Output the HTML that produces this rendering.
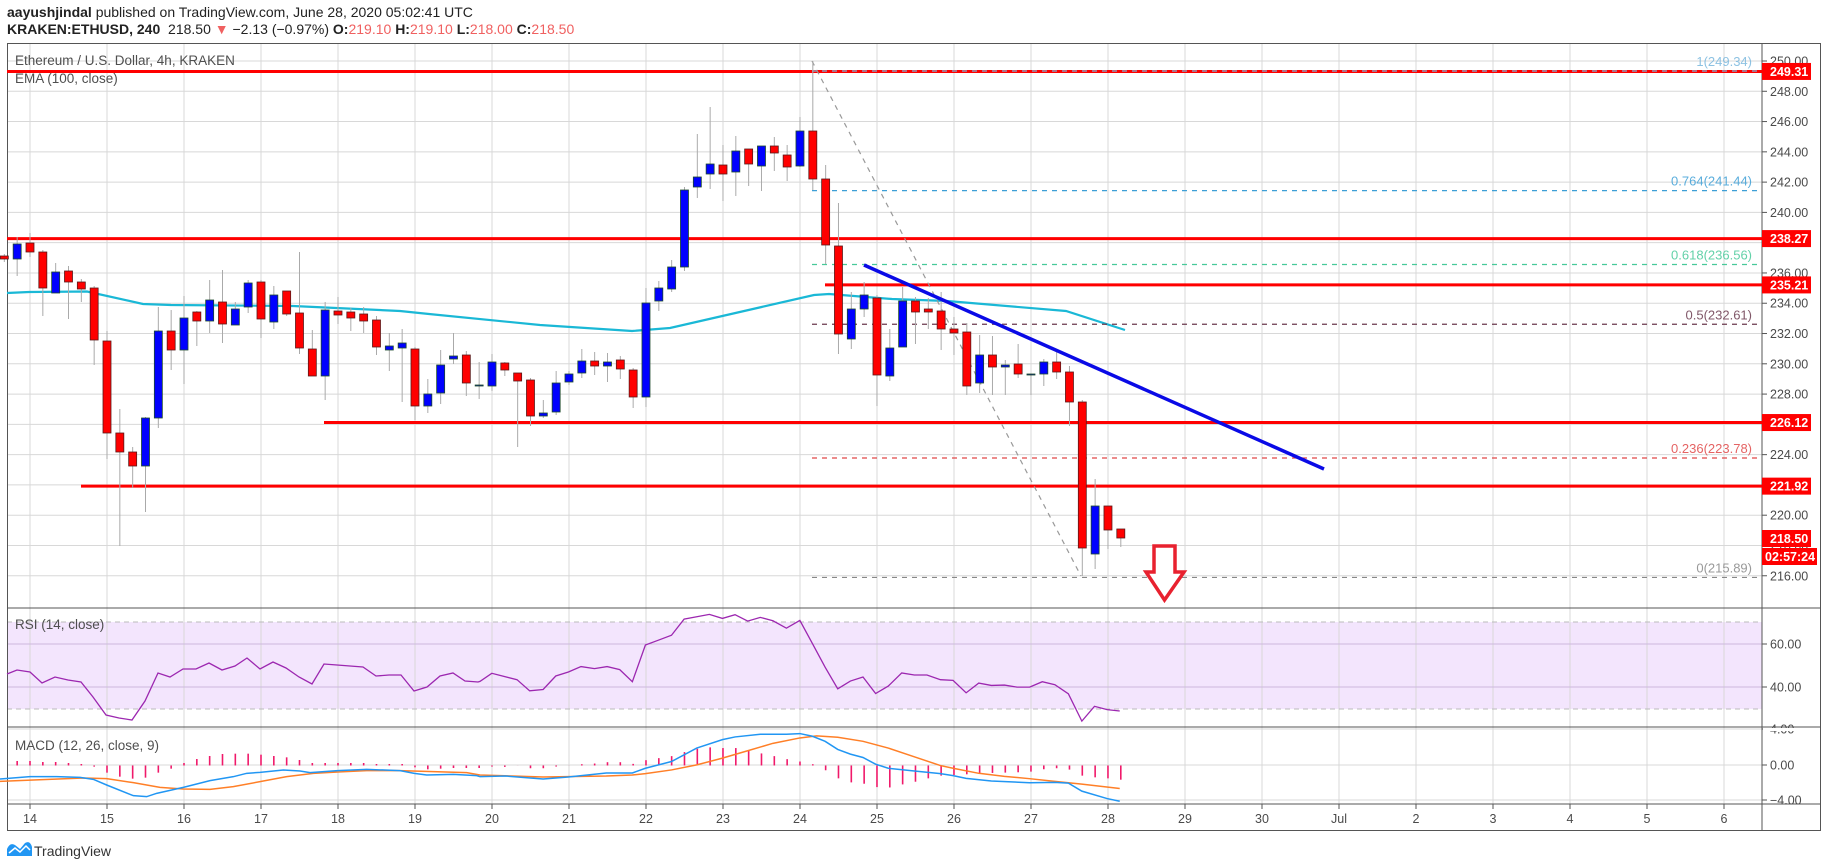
<!DOCTYPE html>
<html><head><meta charset="utf-8"><style>
html,body{margin:0;padding:0;background:#fff;width:1828px;height:868px;overflow:hidden;font-family:"Liberation Sans",sans-serif;}
.h{position:absolute;left:7px;font-size:14px;color:#222;white-space:nowrap}
.r{color:#f06060}
</style></head><body>
<div class="h" style="top:4px"><b>aayushjindal</b> published on TradingView.com, June 28, 2020 05:02:41 UTC</div>
<div class="h" style="top:21px"><b>KRAKEN:ETHUSD, 240</b>&nbsp; 218.50 <span class="r">▼</span> −2.13 (−0.97%) <b>O:</b><span class="r">219.10</span> <b>H:</b><span class="r">219.10</span> <b>L:</b><span class="r">218.00</span> <b>C:</b><span class="r">218.50</span></div>
<svg id="s" width="1828" height="868" style="position:absolute;left:0;top:0" xmlns="http://www.w3.org/2000/svg" font-family="Liberation Sans, sans-serif"></svg>
<script>
const S=document.getElementById('s');let h='';
const P=p=>61+(250-p)*15.14;
const X=i=>30+(i-3)*12.833;
// RSI band
h+=`<rect x="7" y="622" width="1755" height="87" fill="#f3e5fd"/>`;
// grids
for(let d=0;d<=22;d++){const x=30+d*77;h+=`<line x1="${x}" y1="43" x2="${x}" y2="804" stroke="#d8d8d8"/>`;}
for(let p=216;p<=250;p+=2){const y=P(p);h+=`<line x1="7" y1="${y}" x2="1762" y2="${y}" stroke="#d8d8d8"/>`;}
[644,687].forEach(y=>h+=`<line x1="7" y1="${y}" x2="1762" y2="${y}" stroke="#cdb8dd"/>`);
[622,709].forEach(y=>h+=`<line x1="7" y1="${y}" x2="1762" y2="${y}" stroke="#bbb" stroke-dasharray="5,4"/>`);
[729,765,800].forEach(y=>h+=`<line x1="7" y1="${y}" x2="1762" y2="${y}" stroke="#d8d8d8"/>`);
// frames
h+=`<rect x="7.5" y="43.5" width="1813" height="787" fill="none" stroke="#555"/>`;
h+=`<line x1="1762" y1="43" x2="1762" y2="831" stroke="#555"/>`;
[608,727,804].forEach(y=>h+=`<line x1="7" y1="${y}" x2="1821" y2="${y}" stroke="#555"/>`);
// EMA
const ema=[[7,293],[29,292],[87,291.5],[143,304],[171,305],[293,306],[400,311],[429,314],[540,325],[632,331],[670,328],[814,295],[829,294],[892,299],[947,301],[1066,311],[1125,330]];
h+=`<polyline points="${ema.map(a=>a.join(',')).join(' ')}" fill="none" stroke="#1ab8d6" stroke-width="2.2"/>`;
// red lines
[[7,249.31],[7,238.27],[825,235.21],[324,226.12],[81,221.92]].forEach(a=>{const y=P(a[1]);h+=`<line x1="${a[0]}" y1="${y}" x2="1762" y2="${y}" stroke="#f00" stroke-width="3"/>`;});
// fib
const fib=[[249.34,'1(249.34)','#7ab8de'],[241.44,'0.764(241.44)','#3d9fd6'],[236.56,'0.618(236.56)','#48c99a'],[232.61,'0.5(232.61)','#6b3a4e'],[223.78,'0.236(223.78)','#e04848'],[215.89,'0(215.89)','#888']];
fib.forEach(f=>{const y=P(f[0]);h+=`<line x1="812" y1="${y}" x2="1762" y2="${y}" stroke="${f[2]}" stroke-width="1.2" stroke-dasharray="5,5"/>`;
h+=`<text x="1752" y="${y-5}" font-size="13" fill="${f[2]}" text-anchor="end" opacity="0.85">${f[1]}</text>`;});
h+=`<line x1="812" y1="61" x2="1081" y2="576" stroke="#999" stroke-width="1.2" stroke-dasharray="5,5"/>`;
// candles
const C=[[256,259,254,262,0],[244,259,237,276,1],[243,252,233,257,0],[252,288,250,316,0],[272,293,263,293,1],[271,282,266,319,0],[282,289,279,302,0],[288,340,286,365,0],[341,433,331,459,0],[433,452,409,546,0],[452,466,447,488,0],[418,466,417,512,1],[331,418,307,428,1],[331,350,310,370,0],[318,350,296,384,1],[312,321,311,346,0],[300,321,280,333,1],[302,324,270,343,0],[309,325,302,325,1],[283,307,280,313,1],[282,319,280,338,0],[295,322,286,329,1],[291,314,291,316,0],[313,348,252,354,0],[349,376,330,376,0],[310,376,302,400,1],[311,315,297,324,0],[312,318,308,331,0],[314,321,307,333,0],[320,347,316,355,0],[346,350,333,371,1],[343,348,329,402,1],[349,406,347,420,0],[394,406,379,413,1],[365,393,350,404,1],[356,359,333,364,1],[355,383,351,396,0],[385,386,362,399,1],[362,386,354,391,1],[363,370,362,376,0],[373,381,373,447,0],[380,416,378,426,0],[413,416,400,418,1],[383,412,371,415,1],[374,382,371,385,1],[361,373,349,378,1],[361,366,352,375,0],[362,366,353,382,1],[360,369,356,379,0],[370,397,368,408,0],[303,397,288,407,1],[288,301,281,311,1],[267,289,260,292,1],[190,267,187,271,1],[177,187,134,198,1],[164,174,107,189,1],[165,174,145,201,0],[151,172,136,196,1],[149,164,149,186,0],[146,166,146,191,1],[146,153,137,171,0],[155,167,145,181,0],[131,166,117,167,1],[131,179,61,190,0],[179,245,165,264,0],[246,334,203,354,0],[309,339,292,349,1],[295,309,282,317,1],[298,375,295,406,0],[348,376,329,381,1],[301,347,287,347,1],[301,312,297,344,0],[309,312,298,329,0],[311,329,292,350,0],[329,333,317,355,0],[332,386,323,395,0],[355,383,335,393,1],[355,367,336,395,0],[365,367,360,395,1],[364,374,344,378,0],[374,375,374,395,1],[362,374,359,386,1],[362,372,352,379,0],[372,402,366,426,0],[402,548,400,576,0],[506,554,479,569,1],[506,530,506,549,0],[529,538,529,547,0]];
C.forEach((c,k)=>{const x=X(k+1);h+=`<line x1="${x}" y1="${c[2]}" x2="${x}" y2="${c[3]}" stroke="#aaa"/>`;
h+=`<rect x="${x-4}" y="${c[0]}" width="8" height="${Math.max(1,c[1]-c[0])}" fill="${c[4]?'#0000ff':'#ff0000'}" stroke="${c[4]?'#1d4a2a':'#5a1a1a'}" stroke-width="0.8"/>`;});
// trendline
h+=`<line x1="864" y1="265" x2="1324" y2="469" stroke="#0a0ae6" stroke-width="3.5"/>`;
// arrow
h+=`<path d="M1154,546 L1175,546 L1175,572 L1184,572 L1164.5,600 L1146,572 L1154,572 Z" fill="#fff" stroke="#e8212f" stroke-width="3.5" stroke-linejoin="miter"/>`;
// RSI
const rL=[[7,674],[17,670],[30,672],[42,683],[55,677],[68,680],[81,682],[93,697],[106,715],[119,718],[132,720],[145,701],[158,673],[170,677],[183,669],[196,669],[209,663],[222,670],[235,666],[247,658],[260,669],[273,662],[286,668],[299,677],[312,684],[324,664],[337,665],[350,666],[363,667],[376,676],[389,675],[401,675],[414,691],[427,687],[440,676],[453,673],[465,681],[478,682]];
const rR=[[0,212],[28,188],[88,207],[118,240],[150,236],[180,196],[210,184],[240,168],[272,174],[302,168],[332,177],[362,213],[393,104],[423,90],[455,75],[485,27],[515,20],[545,13],[576,25],[606,14],[636,33],[666,22],[696,32],[728,54],[760,31],[790,100],[820,170],[850,234],[880,211],[910,199],[940,248],[970,226],[1002,187],[1032,193],[1062,193],[1094,207],[1124,209],[1155,246],[1185,217],[1215,224],[1246,223],[1276,229],[1306,229],[1336,213],[1366,222],[1398,249],[1430,330],[1460,286],[1490,296],[1520,300]].map(a=>[480+a[0]/2.376,610+a[1]/2.97]);
h+=`<polyline points="${rL.concat(rR).map(a=>a.join(',')).join(' ')}" fill="none" stroke="#9c27b0" stroke-width="1.3"/>`;
// MACD hist
const hL=[543,543,546,546,549,552,560,578,590,596,593,578,566,549,537,528,522,521,521,524,528,532,540,549,549,549,549,549,552,552,552,562,568,566,564,564,564].map(z=>580+z/3);
const hR=[465,466,462,470,470,465,462,458,456,452,452,457,446,440,434,422,412,408,410,410,418,426,434,443,450,458,476,500,512,516,526,527,518,510,500,492,490,488,484,484,483,482,480,473,470,474,492,497,500,504].map(z=>610+z/2.97);
const hb=hL.concat(hR);
hb.forEach((y,k)=>{const x=X(k+2);h+=`<line x1="${x}" y1="765.5" x2="${x}" y2="${y}" stroke="#f0196a" stroke-width="1.6"/>`;});
const m3=a=>[a[0]/3,580+a[1]/3], m8=a=>[480+a[0]/2.376,610+a[1]/2.97];
const mbL=[[0,597],[90,590],[170,590],[240,592],[280,598],[320,615],[400,647],[440,650],[470,640],[550,622],[630,602],[700,590],[740,580],[780,577],[850,570],[900,573],[930,578],[1013,572],[1100,568],[1200,572],[1243,580],[1280,585],[1360,583],[1430,587]].map(m3);
const mbR=[[0,495],[60,493],[150,502],[210,496],[300,484],[362,484],[393,470],[455,450],[515,410],[576,385],[606,377],[666,369],[728,369],[760,367],[790,375],[820,390],[850,414],[880,428],[910,438],[940,458],[970,470],[1032,478],[1094,486],[1124,492],[1155,500],[1215,508],[1306,513],[1366,512],[1398,514],[1430,538],[1490,560],[1520,568]].map(m8);
const moL=[[0,604],[100,600],[250,594],[320,596],[400,608],[480,622],[550,627],[630,628],[700,620],[780,605],[860,590],[940,580],[1013,576],[1100,572],[1200,572],[1300,575],[1400,578]].map(m3);
const moR=[[0,490],[150,496],[300,493],[362,490],[393,486],[455,475],[515,460],[576,440],[636,418],[696,396],[760,380],[800,374],[850,378],[910,390],[970,410],[1032,436],[1094,462],[1124,470],[1185,485],[1246,494],[1306,501],[1366,509],[1430,517],[1520,530]].map(m8);
h+=`<polyline points="${moL.concat(moR).map(a=>a.join(',')).join(' ')}" fill="none" stroke="#ff7f27" stroke-width="1.5"/>`;
h+=`<polyline points="${mbL.concat(mbR).map(a=>a.join(',')).join(' ')}" fill="none" stroke="#2196f3" stroke-width="1.5"/>`;
// pane labels
h+=`<text x="15" y="65" font-size="13.5" fill="#4f4f4f">Ethereum / U.S. Dollar, 4h, KRAKEN</text>`;
h+=`<text x="15" y="83" font-size="13.5" fill="#4f4f4f">EMA (100, close)</text>`;
h+=`<text x="15" y="629" font-size="13.5" fill="#4f4f4f">RSI (14, close)</text>`;
h+=`<text x="15" y="750" font-size="13.5" fill="#4f4f4f">MACD (12, 26, close, 9)</text>`;
// right axis
for(let p=216;p<=250;p+=2){const y=P(p);h+=`<line x1="1762" y1="${y}" x2="1767" y2="${y}" stroke="#555"/><text x="1770" y="${y+4.5}" font-size="12.5" fill="#4a4a4a">${p.toFixed(2)}</text>`;}
[[644,'60.00'],[687,'40.00'],[729,'4.00'],[765,'0.00'],[800,'−4.00']].forEach(a=>h+=`<line x1="1762" y1="${a[0]}" x2="1767" y2="${a[0]}" stroke="#555"/><text x="1770" y="${a[0]+4.5}" font-size="12.5" fill="#4a4a4a">${a[1]}</text>`);
h+=`<rect x="1763" y="728" width="57" height="3" fill="#fff"/>`;
[249.31,238.27,235.21,226.12,221.92].forEach(p=>{const y=P(p);h+=`<rect x="1762" y="${y-8.5}" width="49" height="17" fill="#f00"/><text x="1770" y="${y+4.5}" font-size="12.5" font-weight="bold" fill="#fff">${p.toFixed(2)}</text>`;});
h+=`<rect x="1762" y="530" width="49" height="17" fill="#f00"/><text x="1770" y="543" font-size="12.5" font-weight="bold" fill="#fff">218.50</text>`;
h+=`<rect x="1762" y="548" width="55" height="17" fill="#f00"/><text x="1765" y="561" font-size="12.5" font-weight="bold" fill="#fff">02:57:24</text>`;
// x axis
const lab=['14','15','16','17','18','19','20','21','22','23','24','25','26','27','28','29','30','Jul','2','3','4','5','6'];
lab.forEach((t,d)=>{const x=30+d*77;h+=`<line x1="${x}" y1="804" x2="${x}" y2="809" stroke="#555"/><text x="${x}" y="823" font-size="12.5" fill="#4a4a4a" text-anchor="middle">${t}</text>`;});
// footer logo
h+=`<path d="M7,856 L7,849 Q10,842 15,845 L20,849 L25,843 Q30,840 32,847 L32,856 Z" fill="#2196f3"/><path d="M9,853 L15,848 L20,852 L26,846 L30,850" fill="none" stroke="#fff" stroke-width="1.5"/>`;
h+=`<text x="34" y="856" font-size="14" fill="#333">TradingView</text>`;
S.innerHTML=h;
</script>
</body></html>
